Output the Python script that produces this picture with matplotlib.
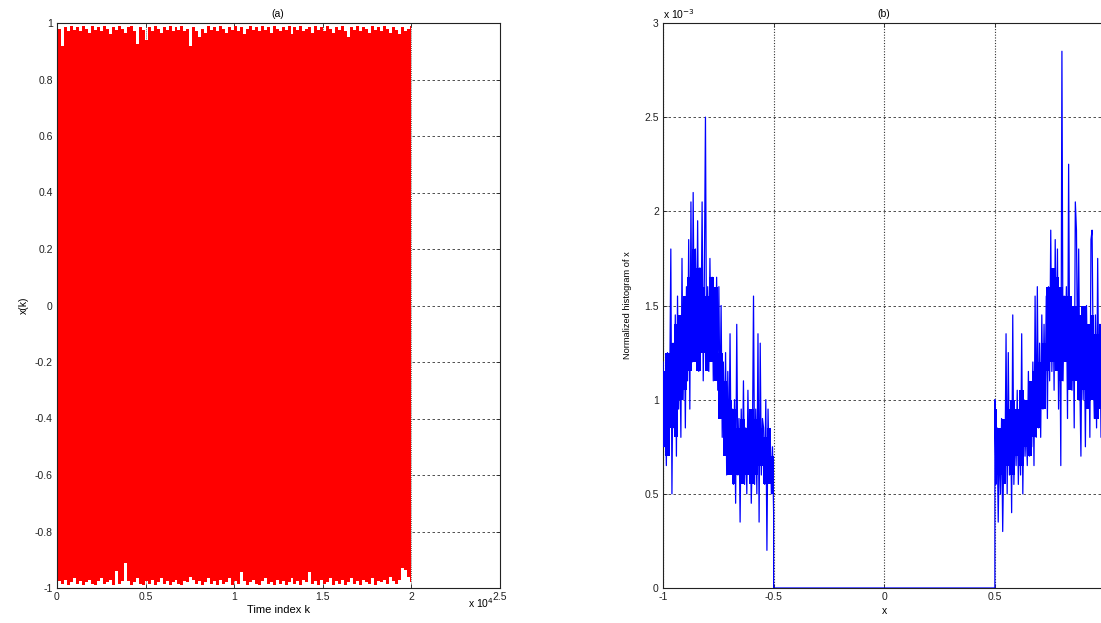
import numpy as np
import matplotlib
matplotlib.use("Agg")
import matplotlib.pyplot as plt
from matplotlib.ticker import FormatStrFormatter

plt.rcParams["font.family"] = ["Liberation Sans", "DejaVu Sans"]

# (a) 信号 x(k) 的上下包络（按 k 均匀取 120 段读出）
K_MAX = 20000
upper_env = [
    0.99, 0.98, 0.92, 0.985, 0.97, 0.99, 0.975, 0.985, 0.97, 0.99,
    0.98, 0.965, 0.99, 0.975, 0.985, 0.97, 0.99, 0.98, 0.96, 0.985,
    0.975, 0.99, 0.98, 0.965, 0.985, 0.99, 0.97, 0.925, 0.985, 0.975,
    0.94, 0.985, 0.97, 0.99, 0.98, 0.965, 0.985, 0.975, 0.99, 0.97,
    0.985, 0.975, 0.99, 0.97, 0.98, 0.92, 0.985, 0.97, 0.95, 0.98,
    0.965, 0.99, 0.975, 0.985, 0.97, 0.99, 0.98, 0.965, 0.985, 0.975,
    0.99, 0.97, 0.985, 0.96, 0.98, 0.99, 0.975, 0.985, 0.97, 0.99,
    0.975, 0.985, 0.965, 0.99, 0.98, 0.97, 0.985, 0.975, 0.99, 0.96,
    0.985, 0.975, 0.99, 0.97, 0.98, 0.985, 0.965, 0.99, 0.975, 0.985,
    0.97, 0.99, 0.98, 0.965, 0.985, 0.975, 0.99, 0.97, 0.95, 0.985,
    0.975, 0.99, 0.97, 0.985, 0.98, 0.965, 0.99, 0.975, 0.985, 0.97,
    0.99, 0.98, 0.965, 0.985, 0.975, 0.96, 0.985, 0.97, 0.98, 0.99,
]
lower_env = [
    -0.99, -0.975, -0.985, -0.97, -0.99, -0.98, -0.965, -0.985, -0.975, -0.99,
    -0.98, -0.97, -0.985, -0.99, -0.975, -0.965, -0.985, -0.98, -0.97, -0.99,
    -0.94, -0.985, -0.975, -0.91, -0.975, -0.99, -0.98, -0.965, -0.985, -0.99,
    -0.975, -0.985, -0.97, -0.99, -0.98, -0.965, -0.985, -0.975, -0.99, -0.98,
    -0.97, -0.985, -0.99, -0.975, -0.98, -0.96, -0.97, -0.985, -0.975, -0.99,
    -0.98, -0.965, -0.985, -0.975, -0.99, -0.97, -0.985, -0.98, -0.965, -0.99,
    -0.975, -0.985, -0.945, -0.975, -0.99, -0.98, -0.97, -0.985, -0.99, -0.975,
    -0.965, -0.985, -0.98, -0.99, -0.97, -0.985, -0.975, -0.99, -0.98, -0.965,
    -0.985, -0.975, -0.99, -0.97, -0.98, -0.945, -0.985, -0.975, -0.99, -0.97,
    -0.985, -0.98, -0.965, -0.99, -0.975, -0.985, -0.97, -0.99, -0.98, -0.965,
    -0.985, -0.975, -0.99, -0.97, -0.98, -0.985, -0.965, -0.99, -0.975, -0.98,
    -0.97, -0.985, -0.96, -0.975, -0.985, -0.97, -0.93, -0.935, -0.96, -0.98,
]

# (b) 归一化直方图（单位 1e-3），两段支撑区 [-1,-0.5] 与 [0.5,1]
hist_left = [
    1.20, 0.75, 1.10, 0.65, 1.25, 0.80, 1.05, 1.80, 0.50, 1.30,
    0.85, 1.45, 0.70, 1.55, 0.95, 1.35, 0.80, 1.75, 1.00, 1.50,
    0.85, 1.60, 1.10, 1.85, 0.95, 2.05, 1.20, 2.10, 1.30, 1.80,
    1.25, 1.95, 1.15, 1.70, 1.30, 2.05, 1.10, 1.65, 2.50, 1.20,
    1.60, 1.15, 1.75, 1.25, 1.65, 1.10, 1.55, 1.20, 1.65, 1.05,
    1.60, 0.95, 1.50, 0.80, 1.20, 0.75, 1.25, 0.60, 1.15, 0.70,
    1.35, 0.65, 0.95, 0.55, 1.00, 0.45, 1.40, 0.60, 0.90, 0.35,
    0.95, 0.60, 1.10, 0.55, 0.85, 0.50, 1.05, 0.65, 0.90, 0.45,
    0.75, 1.55, 0.55, 0.95, 0.50, 1.35, 0.35, 1.30, 0.60, 0.90,
    0.85, 0.55, 1.00, 0.20, 0.95, 0.60, 0.80, 0.50, 0.75, 0.40,
]
hist_right = [
    1.00, 0.55, 0.85, 0.35, 0.80, 0.50, 0.90, 0.30, 0.75, 0.60,
    1.35, 0.50, 1.25, 0.60, 0.95, 0.40, 1.45, 0.55, 0.85, 0.65,
    1.05, 0.55, 0.95, 0.60, 1.35, 0.50, 1.00, 0.70, 0.90, 0.65,
    1.15, 0.70, 1.00, 0.75, 1.20, 0.65, 1.55, 0.80, 1.60, 0.85,
    1.30, 0.80, 1.45, 0.95, 1.40, 1.00, 1.55, 0.90, 1.60, 1.10,
    1.90, 1.15, 1.60, 1.05, 1.85, 1.20, 1.80, 0.95, 1.55, 0.65,
    2.85, 1.10, 1.55, 1.25, 1.60, 0.90, 2.25, 1.15, 1.50, 1.05,
    1.45, 0.85, 2.05, 1.90, 1.20, 1.80, 1.10, 0.70, 1.45, 1.00,
    1.40, 0.75, 1.50, 1.05, 1.35, 0.80, 1.85, 1.90, 1.20, 0.90,
    1.45, 0.85, 1.75, 1.00, 1.40, 0.80, 1.30, 0.95, 1.45, 1.05,
]
# 直方图密集部分（实心蓝带）的上下沿，每 0.02 读一次
band_left_lo = [0.75, 0.70, 0.85, 0.80, 1.00, 1.05, 1.15, 1.20, 1.15, 1.25, 1.15, 1.20, 1.10,
                0.90, 0.70, 0.60, 0.55, 0.60, 0.55, 0.60, 0.55, 0.60, 0.65, 0.55, 0.55, 0.50]
band_left_hi = [1.15, 1.25, 1.30, 1.40, 1.45, 1.55, 1.65, 1.80, 1.70, 1.60, 1.55, 1.65, 1.60,
                1.25, 1.10, 1.00, 0.95, 0.85, 0.90, 0.85, 0.95, 0.90, 0.85, 0.80, 0.85, 0.70]
band_right_lo = [0.55, 0.60, 0.55, 0.65, 0.60, 0.70, 0.65, 0.75, 0.70, 0.80, 0.85, 0.95, 1.15,
                 1.20, 1.15, 1.10, 1.20, 1.05, 1.10, 1.00, 1.05, 0.95, 1.00, 0.90, 0.95, 0.90]
band_right_hi = [0.95, 0.85, 0.90, 0.95, 1.00, 0.95, 1.05, 1.00, 1.10, 1.15, 1.20, 1.30, 1.60,
                 1.70, 1.65, 1.60, 1.55, 1.55, 1.50, 1.45, 1.50, 1.40, 1.45, 1.35, 1.40, 1.30]

FS = 7.5
GRID_COL = "#333333"
BLUE = "#0000ff"


def style_axes(ax):
    for s in ax.spines.values():
        s.set_color("#222222")
        s.set_linewidth(0.8)
    ax.tick_params(direction="in", length=3, width=0.6, labelsize=FS,
                   top=True, right=True, pad=3, colors="#222222")


fig = plt.figure(figsize=(11.01, 6.23), dpi=100)
W, H = 1101, 623

# ---- (a) ----
ax1 = fig.add_axes([57 / W, 1 - 588 / H, 442.5 / W, 565 / H])
k = np.linspace(0, K_MAX, len(upper_env))
ax1.fill_between(k, lower_env, upper_env, step="mid", color="#ff0000", lw=0, zorder=2)
ax1.set_xlim(0, 25000)
ax1.set_ylim(-1, 1)
ax1.set_xticks([0, 5000, 10000, 15000, 20000, 25000])
ax1.set_xticklabels(["0", "0.5", "1", "1.5", "2", "2.5"])
yt = [-1, -0.8, -0.6, -0.4, -0.2, 0, 0.2, 0.4, 0.6, 0.8, 1]
ax1.set_yticks(yt)
ax1.set_yticklabels([f"{v:g}" for v in yt])
ax1.set_axisbelow(True)
ax1.yaxis.grid(True, ls=(0, (3, 3)), color=GRID_COL, lw=0.6)
ax1.xaxis.grid(True, ls=(0, (1, 1.5)), color=GRID_COL, lw=0.6)
style_axes(ax1)
ax1.set_title("(a)", fontsize=FS, pad=4)
ax1.set_xlabel("Time index k", fontsize=8, labelpad=2)
ax1.set_ylabel("x(k)", fontsize=FS, labelpad=4)
fig.text(468 / W, 1 - 603 / H, r"x 10$^{4}$", fontsize=FS, ha="left", va="center")

# ---- (b) ----
ax2 = fig.add_axes([663 / W, 1 - 588 / H, 442.5 / W, 565 / H])
bxl = np.linspace(-1, -0.5, len(band_left_lo))
bxr = np.linspace(0.5, 1, len(band_right_lo))
ax2.fill_between(bxl, band_left_lo, band_left_hi, step="mid", color=BLUE, lw=0, zorder=3)
ax2.fill_between(bxr, band_right_lo, band_right_hi, step="mid", color=BLUE, lw=0, zorder=3)
xl = np.linspace(-1, -0.5, len(hist_left))
xr = np.linspace(0.5, 1, len(hist_right))
xs = np.concatenate([xl, [-0.5, 0.5], xr])
ys = np.concatenate([hist_left, [0, 0], hist_right])
ax2.plot(xs, ys, color=BLUE, lw=0.9, zorder=3)
ax2.set_xlim(-1, 1)
ax2.set_ylim(0, 3)
ax2.set_xticks([-1, -0.5, 0, 0.5])
ax2.xaxis.set_major_formatter(FormatStrFormatter("%g"))
ax2.set_yticks([0, 0.5, 1, 1.5, 2, 2.5, 3])
ax2.yaxis.set_major_formatter(FormatStrFormatter("%g"))
ax2.set_axisbelow(True)
ax2.yaxis.grid(True, ls=(0, (3, 3)), color=GRID_COL, lw=0.6)
ax2.xaxis.grid(True, ls=(0, (1, 1.5)), color=GRID_COL, lw=0.8)
style_axes(ax2)
ax2.set_title("(b)", fontsize=FS, pad=4)
ax2.set_xlabel("x", fontsize=FS, labelpad=3)
ax2.set_ylabel("Normalized histogram of x", fontsize=6.7, labelpad=9)
fig.text(663 / W, 1 - 14 / H, r"x 10$^{-3}$", fontsize=FS, ha="left", va="center")

fig.savefig("out.png", dpi=100)
